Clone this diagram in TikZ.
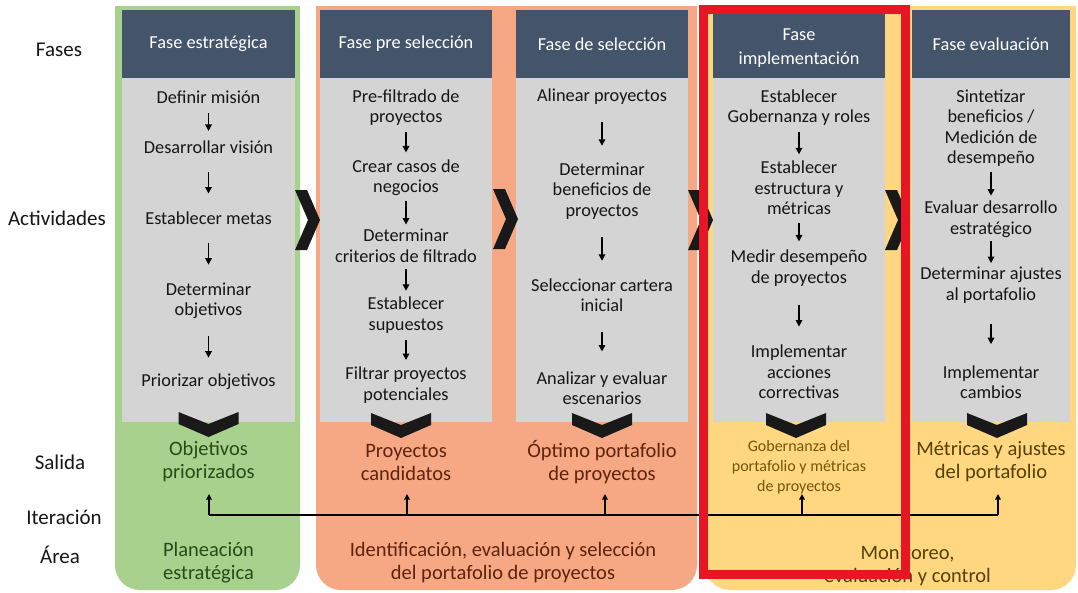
\documentclass[tikz,border=0pt]{standalone}
\usepackage{fontspec}
\setmainfont{Carlito}
\usetikzlibrary{arrows.meta,calc}
\definecolor{cgreen}{RGB}{167,209,140}
\definecolor{csalmon}{RGB}{246,168,132}
\definecolor{cyellow}{RGB}{255,215,128}
\definecolor{cgray}{RGB}{212,212,212}
\definecolor{chead}{RGB}{68,84,106}
\definecolor{cred}{RGB}{232,22,36}
\definecolor{ctext}{RGB}{22,22,22}
\definecolor{tgreen}{RGB}{40,75,25}
\definecolor{tsalmon}{RGB}{95,35,12}
\definecolor{tyellow}{RGB}{85,65,5}
\definecolor{tgob}{RGB}{115,85,10}
\definecolor{cchev}{RGB}{25,25,25}
\tikzset{
  act/.style={align=center, text=ctext, font=\fontsize{18.3}{20.5}\selectfont, inner sep=1pt},
  hdr/.style={align=center, text=white, font=\fontsize{18.3}{24}\selectfont, inner sep=1pt},
  outp/.style={align=center, font=\fontsize{20.5}{23}\selectfont, inner sep=1pt},
  areatxt/.style={align=center, font=\fontsize{20.5}{23}\selectfont, inner sep=1pt},
  lbl/.style={text=ctext, font=\fontsize{21}{24}\selectfont, inner sep=1pt},
  flowtip/.style={-{Triangle[length=6.5pt,width=6.5pt]}, line width=1.8pt, black},
  link/.style={to path={($(\tikztostart.south)!.5!(\tikztotarget.north)+(0,-#1)$) -- ($(\tikztostart.south)!.5!(\tikztotarget.north)+(0,#1)$)}},
  link/.default=11,
  iter/.style={line width=1.8pt, black},
  itertip/.style={iter, -{Triangle[length=5.5pt,width=5.5pt]}},
  dchev/.pic={\fill[cchev] (-30,0) -- (0,12) -- (30,0) -- (30,12) -- (0,25) -- (-30,12) -- cycle;},
  rchev/.pic={\fill[cchev] (0,0) -- (12,0) -- (25,30) -- (12,60) -- (0,60) -- (13,30) -- cycle;}
}
\begin{document}
\begin{tikzpicture}[x=1pt,y=-1pt]
\useasboundingbox (0,0) rectangle (1078,592);
\fill[white] (0,0) rectangle (1078,592);

% area backgrounds
\fill[cgreen, rounded corners=25pt] (115,6) rectangle (300,590);
\fill[cgreen] (115,6) rectangle (300,60);
\fill[csalmon, rounded corners=25pt] (316,6) rectangle (697,590);
\fill[csalmon] (316,6) rectangle (697,60);
\fill[cyellow, rounded corners=25pt] (705,6) rectangle (1076,590);
\fill[cyellow] (705,6) rectangle (1076,60);

% gray activity columns and headers
\foreach \l/\r in {122/295, 320/492, 516/688, 713/885, 912/1070}{
  \fill[cgray] (\l,78) rectangle (\r,422);
  \fill[chead] (\l,10) rectangle (\r,78);
}

% left labels
\node[lbl] (l1) at (59,50) {Fases};
\node[lbl] (l2) at (57,218) {Actividades};
\node[lbl] (l3) at (60,462) {Salida};
\node[lbl] (l4) at (64,517) {Iteración};
\node[lbl] (l5) at (60,555) {Área};

% column 1
\node[hdr] (h1) at (208.5,44) {Fase estratégica};
\node[act] (a11) at (208.5,97) {Definir misión};
\node[act] (a12) at (208.5,147) {Desarrollar visión};
\node[act] (a13) at (208.5,218) {Establecer metas};
\node[act] (a14) at (208.5,301) {Determinar\\objetivos};
\node[act] (a15) at (208.5,382) {Priorizar objetivos};
\node[outp, text=tgreen] (o1) at (208.5,462) {Objetivos\\priorizados};
\node[areatxt, text=tgreen] (r1) at (208.5,563) {Planeación\\estratégica};
\draw[flowtip] (a11) to[link=9] (a12);
\draw[flowtip] (a12) to[link] (a13);
\draw[flowtip] (a13) to[link] (a14);
\draw[flowtip] (a14) to[link] (a15);

% column 2
\node[hdr] (h2) at (406,44) {Fase pre selección};
\node[act] (a21) at (406,107.5) {Pre-filtrado de\\proyectos};
\node[act] (a22) at (406,177.5) {Crear casos de\\negocios};
\node[act] (a23) at (406,246) {Determinar\\criterios de filtrado};
\node[act] (a24) at (406,315) {Establecer\\supuestos};
\node[act] (a25) at (406,385) {Filtrar proyectos\\potenciales};
\node[outp, text=tsalmon] (o2) at (406,462) {Proyectos\\candidatos};
\draw[flowtip] (a21) to[link=10] (a22);
\draw[flowtip] (a22) to[link=12] (a23);
\draw[flowtip] (a23) to[link=11] (a24);
\draw[flowtip] (a24) to[link=10] (a25);

% column 3
\node[hdr] (h3) at (602,44) {Fase de selección};
\node[act] (a31) at (602,97) {Alinear proyectos};
\node[act] (a32) at (602,191) {Determinar\\beneficios de\\proyectos};
\node[act] (a33) at (602,295) {Seleccionar cartera\\inicial};
\node[act] (a34) at (602,388) {Analizar y evaluar\\escenarios};
\node[outp, text=tsalmon] (o3) at (602,462) {Óptimo portafolio\\de proyectos};
\draw[flowtip] (a31) to[link=12] (a32);
\draw[flowtip] (a32) to[link=12] (a33);
\draw[flowtip] (a33) to[link=10] (a34);
\node[areatxt, text=tsalmon] (r2) at (503,563) {Identificación, evaluación y selección\\del portafolio de proyectos};

% column 4
\node[hdr] (h4) at (799,48) {Fase\\implementación};
\node[act] (a41) at (799,107.5) {Establecer\\Gobernanza y roles};
\node[act] (a42) at (799,188) {Establecer\\estructura y\\métricas};
\node[act] (a43) at (799,268) {Medir desempeño\\de proyectos};
\node[act] (a44) at (799,372) {Implementar\\acciones\\correctivas};
\node[outp, text=tgob, font=\fontsize{16}{20}\selectfont] (o4) at (799,467) {Gobernanza del\\portafolio y métricas\\de proyectos};
\draw[flowtip] (a41) to[link] (a42);
\draw[flowtip] (a42) to[link=9] (a43);
\draw[flowtip] (a43) to[link] (a44);

% column 5
\node[hdr] (h5) at (991,44) {Fase evaluación};
\node[act] (a51) at (991,128) {Sintetizar\\beneficios /\\Medición de\\desempeño};
\node[act] (a52) at (991,219) {Evaluar desarrollo\\estratégico};
\node[act] (a53) at (991,285) {Determinar ajustes\\al portafolio};
\node[act] (a54) at (991,382) {Implementar\\cambios};
\node[outp, text=tyellow] (o5) at (991,462) {Métricas y ajustes\\del portafolio};
\draw[flowtip] (a51) to[link=12] (a52);
\draw[flowtip] (a52) to[link=11] (a53);
\draw[flowtip] (a53) to[link=10] (a54);
\node[areatxt, text=tyellow] (r3) at (907.5,566) {Monitoreo,\\evaluación y control};

% output chevrons
\pic at (208.5,412) {dchev};
\pic at (401,413) {dchev};
\pic at (602,413) {dchev};
\pic at (796,413) {dchev};
\pic at (997,413) {dchev};

% phase chevrons
\pic at (295,190) {rchev};
\pic at (493,189) {rchev};
\pic at (688,190) {rchev};
\pic at (885,190) {rchev};

% iteration feedback
\coordinate (it1) at (209,515);
\coordinate (it2) at (407,515);
\coordinate (it3) at (605,515);
\coordinate (it4) at (802,515);
\coordinate (it5) at (998,515);
\coordinate (t1) at (209,494);
\coordinate (t2) at (407,494);
\coordinate (t3) at (605,494);
\coordinate (t4) at (802,494);
\coordinate (t5) at (998,494);
\draw[iter] (it1) -- (it5);
\foreach \i in {1,...,5}{\draw[itertip] (it\i) -- (t\i);}

% highlight frame
\draw[cred, line width=9pt] (703,9) rectangle (905,574);
\end{tikzpicture}
\end{document}
